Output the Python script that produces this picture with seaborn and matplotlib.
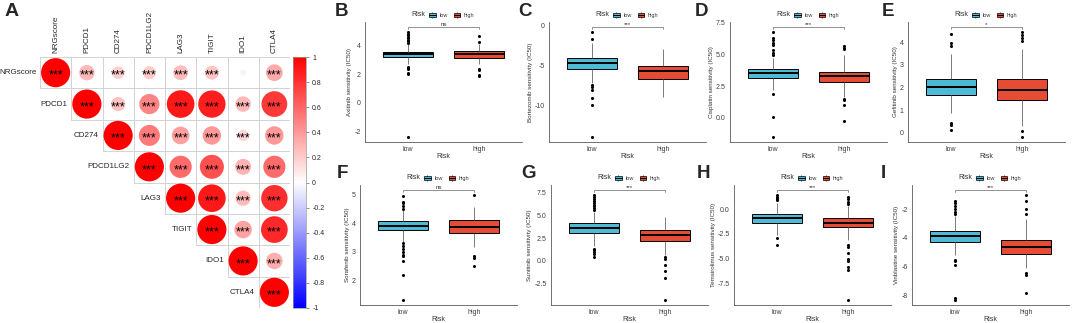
import numpy as np
import pandas as pd
import matplotlib as mpl
import matplotlib.pyplot as plt
import matplotlib.patches as mpatches
from matplotlib.lines import Line2D
from matplotlib.colors import Normalize
from matplotlib.legend_handler import HandlerBase
import seaborn as sns

# ---------------- panel A: correlation matrix (upper triangle, each row starts at the diagonal)
genes = ['NRGscore', 'PDCD1', 'CD274', 'PDCD1LG2', 'LAG3', 'TIGIT', 'IDO1', 'CTLA4']
corr_NRGscore = [1.00, 0.28, 0.19, 0.20, 0.26, 0.23, -0.04, 0.33]
corr_PDCD1 = [1.00, 0.24, 0.48, 0.90, 0.88, 0.28, 0.78]
corr_CD274 = [1.00, 0.52, 0.37, 0.40, 0.15, 0.40]
corr_PDCD1LG2 = [1.00, 0.58, 0.68, 0.30, 0.58]
corr_LAG3 = [1.00, 0.90, 0.27, 0.82]
corr_TIGIT = [1.00, 0.36, 0.84]
corr_IDO1 = [1.00, 0.32]
corr_CTLA4 = [1.00]
not_significant = [('NRGscore', 'IDO1')]

# ---------------- panels B-I: drug sensitivity by risk group
drugs = ['Axitinib', 'Bortezomib', 'Cisplatin', 'Gefitinib',
         'Sorafenib', 'Sunitinib', 'Temsirolimus', 'Vinblastine']
letters = ['B', 'C', 'D', 'E', 'F', 'G', 'H', 'I']
p_labels = ['ns', '***', '***', '*', 'ns', '***', '***', '***']
groups = ['low', 'high']

# (lower whisker, Q1, median, Q3, upper whisker)
low_box = [
    [2.70, 3.16, 3.39, 3.57, 4.15],
    [-7.20, -5.40, -4.70, -4.10, -2.20],
    [2.20, 3.13, 3.55, 3.80, 4.70],
    [0.87, 1.66, 2.04, 2.36, 3.46],
    [3.35, 3.76, 3.91, 4.07, 4.45],
    [1.60, 3.08, 3.62, 4.17, 5.40],
    [-2.60, -1.37, -0.92, -0.49, 0.65],
    [-5.20, -4.30, -3.89, -3.54, -2.46],
]
high_box = [
    [2.70, 3.15, 3.38, 3.60, 4.10],
    [-8.90, -6.69, -5.66, -5.04, -2.90],
    [1.64, 2.81, 3.26, 3.60, 4.90],
    [0.29, 1.47, 1.88, 2.36, 3.68],
    [3.18, 3.65, 3.88, 4.10, 4.57],
    [0.60, 2.24, 2.86, 3.40, 4.78],
    [-3.10, -1.86, -1.37, -0.88, 0.32],
    [-6.10, -5.13, -4.60, -4.16, -2.70],
]
low_outliers = [
    [4.2, 4.3, 4.4, 4.5, 4.6, 4.7, 4.8, 4.9, 2.5, 2.45, 2.35, 2.1, 2.0, -2.35],
    [-0.87, -1.65, -7.45, -7.7, -8.1, -9.1, -9.9, -13.9],
    [6.7, 6.3, 6.1, 5.9, 5.7, 5.3, 5.1, 4.9, 1.9, 0.08, -1.48],
    [3.83, 3.95, 4.37, 0.43, 0.35, 0.14],
    [4.5, 4.6, 4.7, 4.75, 4.95, 3.3, 3.2, 3.1, 3.0, 2.9, 2.85, 2.7, 2.2, 1.33],
    [5.6, 5.8, 6.0, 6.2, 6.4, 6.6, 6.8, 7.0, 7.2, 1.34, 1.2, 1.0, 0.8, 0.43],
    [0.9, 1.0, 1.1, 1.2, 1.37, -2.94, -3.67],
    [-2.35, -2.2, -2.0, -1.8, -1.6, -1.43, -5.5, -5.6, -5.85, -8.2, -8.3],
]
high_outliers = [
    [4.25, 4.63, 2.37, 2.26, 1.92, 1.85],
    [],
    [5.42, 5.5, 5.65, 1.46, 1.4, 0.99, -0.23],
    [4.04, 4.2, 4.3, 4.43, 0.07, -0.17],
    [4.97, 2.85, 2.8, 2.52],
    [0.43, 0.2, -0.48, -1.13, -1.92, -4.28],
    [0.49, 0.75, 1.0, 1.2, -3.6, -3.83, -4.48, -5.0, -5.2, -5.88, -6.1, -9.15],
    [-2.3, -2.0, -1.43, -1.04, -6.45, -6.6, -7.8],
]
y_tick_labels = [
    ['-2', '0', '2', '4'],
    ['-10', '-5', '0'],
    ['0.0', '2.5', '5.0', '7.5'],
    ['0', '1', '2', '3', '4'],
    ['2', '3', '4', '5'],
    ['-2.5', '0.0', '2.5', '5.0', '7.5'],
    ['-7.5', '-5.0', '-2.5', '0.0'],
    ['-8', '-6', '-4', '-2'],
]

risk_palette = {'low': '#4DBBD5', 'high': '#E64B35'}

sns.set_style('white')
plt.rcParams['font.family'] = ['Liberation Sans', 'DejaVu Sans']
plt.rcParams['axes.unicode_minus'] = False

W, H = 1072, 323
fig = plt.figure(figsize=(W / 100, H / 100), dpi=100)


def px_axes(left, top, width, height):
    return fig.add_axes([left / W, 1 - (top + height) / H, width / W, height / H])


class BoxKeyHandler(HandlerBase):
    # ggplot-like boxplot legend key
    def create_artists(self, legend, orig_handle, xdescent, ydescent, width, height, fontsize, trans):
        x0, y0 = -xdescent, -ydescent
        cx = x0 + width / 2
        whisker = Line2D([cx, cx], [y0, y0 + height], color='0.35', lw=0.5, transform=trans)
        box = mpatches.Rectangle((x0 + 0.1 * width, y0 + 0.2 * height), 0.8 * width, 0.6 * height,
                                 facecolor=orig_handle.get_facecolor(), edgecolor='black',
                                 lw=0.5, transform=trans)
        median = Line2D([x0 + 0.1 * width, x0 + 0.9 * width], [y0 + height / 2] * 2,
                        color='black', lw=0.7, transform=trans)
        return [whisker, box, median]


# ---------------- panel A
corr_rows = [corr_NRGscore, corr_PDCD1, corr_CD274, corr_PDCD1LG2,
             corr_LAG3, corr_TIGIT, corr_IDO1, corr_CTLA4]
records = []
for i, row in enumerate(corr_rows):
    for k, r in enumerate(row):
        j = i + k
        star = '' if (genes[i], genes[j]) in not_significant else '***'
        records.append({'row': i, 'col': j, 'r': r, 'size': abs(r), 'star': star})
corr_df = pd.DataFrame(records)

ax_corr = px_axes(40, 57, 250, 251)
for _, rec in corr_df.iterrows():
    ax_corr.add_patch(mpatches.Rectangle((rec['col'] - 0.5, rec['row'] - 0.5), 1, 1,
                                         fill=False, edgecolor='#D3D3D3', lw=0.7, zorder=0))
sns.scatterplot(data=corr_df, x='col', y='row', hue='r', palette='bwr', hue_norm=(-1, 1),
                size='size', sizes=(0, 440), size_norm=(0, 1), linewidth=0,
                legend=False, ax=ax_corr, zorder=2)
for _, rec in corr_df.iterrows():
    ax_corr.text(rec['col'], rec['row'] + 0.1, rec['star'], ha='center', va='center',
                 fontsize=9, color='black', zorder=3)
for i, g in enumerate(genes):
    ax_corr.text(i, -0.62, g, rotation=90, ha='center', va='bottom', fontsize=5.8)
    ax_corr.text(i - 0.62, i, g, ha='right', va='center', fontsize=5.8)
ax_corr.set_xlim(-0.5, 7.5)
ax_corr.set_ylim(7.5, -0.5)
ax_corr.set_axis_off()

cax = px_axes(293, 57, 13, 251)
cbar = fig.colorbar(mpl.cm.ScalarMappable(norm=Normalize(-1, 1), cmap='bwr'), cax=cax)
cb_ticks = np.round(np.linspace(-1, 1, 11), 1) + 0.0
cbar.set_ticks(cb_ticks)
cbar.set_ticklabels([f'{v:g}' for v in cb_ticks])
cax.tick_params(labelsize=5, length=2.5, width=0.5, color='0.4', pad=2)
cbar.outline.set_edgecolor('0.6')
cbar.outline.set_linewidth(0.5)

fig.text(12 / W, 1 - 12 / H, 'A', fontsize=14, fontweight='bold', ha='center', va='center')

# ---------------- panels B-I
box_left_px = [365, 549, 730, 908, 360, 551, 734, 912]
box_top_px = [22, 22, 22, 22, 185, 185, 185, 185]
letter_x_px = [342, 525, 702, 888, 342, 528, 703, 883]

for n, drug in enumerate(drugs):
    ax = px_axes(box_left_px[n], box_top_px[n], 157, 120)

    stats_df = pd.DataFrame({'Risk': ['low'] * 5 + ['high'] * 5,
                             'IC50': low_box[n] + high_box[n]})
    sns.boxplot(data=stats_df, x='Risk', y='IC50', hue='Risk', order=groups, hue_order=groups,
                palette=risk_palette, saturation=1, whis=(0, 100), width=0.7,
                showfliers=False, showcaps=False, linecolor='black', linewidth=0.7,
                medianprops=dict(color='black', linewidth=1.4),
                whiskerprops=dict(color='0.4', linewidth=0.6),
                legend=False, ax=ax)

    out_df = pd.DataFrame({'Risk': ['low'] * len(low_outliers[n]) + ['high'] * len(high_outliers[n]),
                           'IC50': low_outliers[n] + high_outliers[n]})
    sns.stripplot(data=out_df, x='Risk', y='IC50', order=groups, jitter=False,
                  color='black', size=2.2, linewidth=0, ax=ax)

    all_vals = low_box[n] + high_box[n] + low_outliers[n] + high_outliers[n]
    lo, hi = min(all_vals), max(all_vals)
    span = hi - lo
    ax.set_xlim(-0.6, 1.6)
    ax.set_ylim(lo - 0.05 * span, hi + 0.1 * span)

    # significance bracket
    yb = hi + 0.05 * span
    ax.plot([0, 0, 1, 1], [yb - 0.02 * span, yb, yb, yb - 0.02 * span], color='0.4', lw=0.5)
    ax.text(0.5, yb + 0.004 * span, p_labels[n], ha='center', va='bottom', fontsize=4.5, color='0.2')

    ax.set_yticks([float(t) for t in y_tick_labels[n]])
    ax.set_yticklabels(y_tick_labels[n])
    ax.set_xlabel('Risk', fontsize=5, color='0.2', labelpad=0)
    ax.set_ylabel(f'{drug} sensitivity (IC50)', fontsize=4.5, color='0.2', labelpad=1.5)
    ax.tick_params(length=2, width=0.5, color='0.35', labelsize=5, labelcolor='0.25', pad=1)
    sns.despine(ax=ax)
    for side in ['left', 'bottom']:
        ax.spines[side].set_color('0.35')
        ax.spines[side].set_linewidth(0.6)

    handles = [mpatches.Patch(facecolor=risk_palette[g], label=g) for g in groups]
    leg = ax.legend(handles=handles, loc='center', bbox_to_anchor=(0.55, 1.06), ncol=2,
                    frameon=False, fontsize=4, handlelength=1.5, handleheight=1.4,
                    handletextpad=0.5, columnspacing=0.9, borderpad=0, borderaxespad=0,
                    handler_map={mpatches.Patch: BoxKeyHandler()})
    for t in leg.get_texts():
        t.set_color('0.2')
    ax.annotate('Risk', xy=(0, 0.5), xycoords=leg, xytext=(-2, 0), textcoords='offset points',
                ha='right', va='center', fontsize=5, color='0.2')

    letter_y = 11 if n < 4 else 174
    fig.text(letter_x_px[n] / W, 1 - letter_y / H, letters[n], fontsize=13.5,
             fontweight='bold', ha='center', va='center')

fig.savefig('out.png', dpi=100)
plt.close(fig)
